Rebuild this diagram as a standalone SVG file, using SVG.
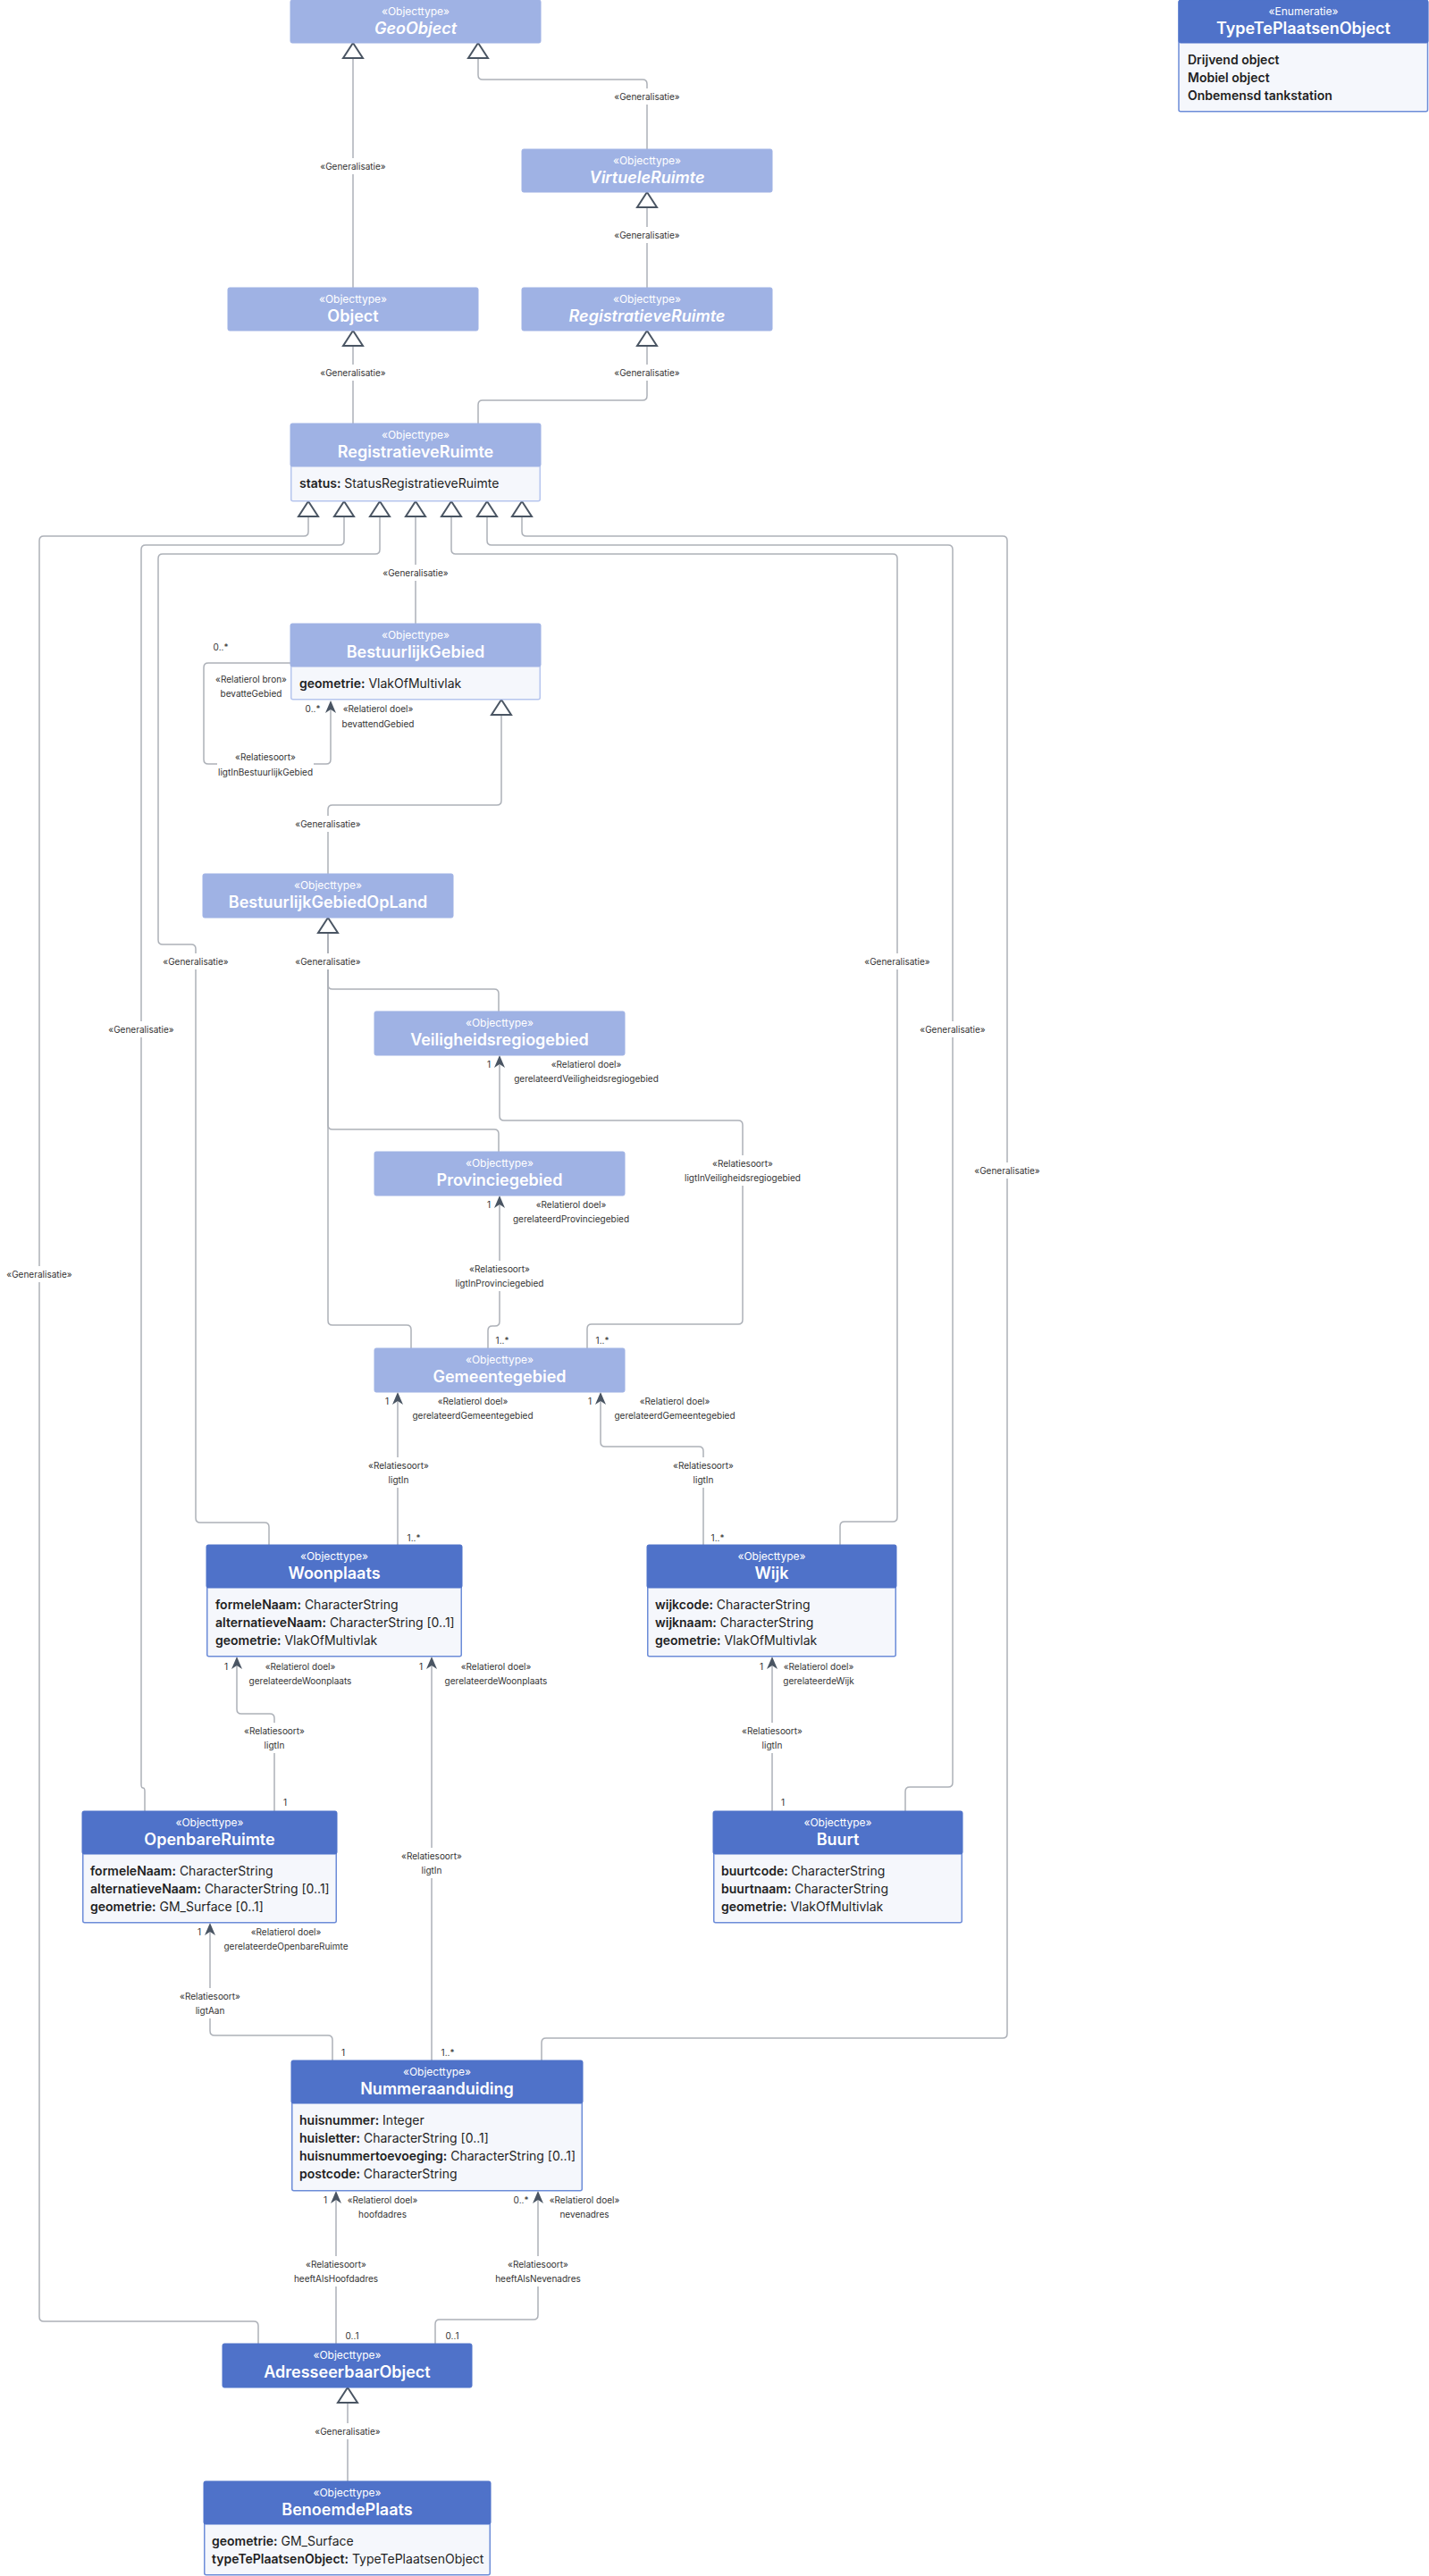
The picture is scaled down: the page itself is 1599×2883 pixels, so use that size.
<svg xmlns="http://www.w3.org/2000/svg" xmlns:xlink="http://www.w3.org/1999/xlink" width="1599" height="2883" viewBox="0 0 1599 2883">
<defs>
<style>
.ln{fill:none;stroke:#ADB1B8;stroke-width:1.5}
.tri{fill:#fff;stroke:#4A5563;stroke-width:2;stroke-linejoin:miter}
.arr{fill:#4A5563}
.bg{fill:#fff}
.lbl{font-family:Inter,'Liberation Sans',sans-serif;font-size:10px;fill:#333;text-anchor:middle}
.hl{fill:#9FB2E4;stroke:#9FB2E4;stroke-width:1}
.hd{fill:#4F72C9;stroke:#4F72C9;stroke-width:1}
.bl{fill:#F5F7FC;stroke:#B6C5EE;stroke-width:1.5}
.bd{fill:#F5F7FC;stroke:#6C8CD8;stroke-width:1.5}
.st{font-family:Inter,'Liberation Sans',sans-serif;font-size:12px;fill:#fff;text-anchor:middle}
.tt{font-family:Inter,'Liberation Sans',sans-serif;font-size:18px;font-weight:600;fill:#fff;text-anchor:middle}
.it{font-style:italic}
.at{font-family:Inter,'Liberation Sans',sans-serif;font-size:14px;fill:#1F1F1F}
.b{font-weight:600}
</style>
<path id="tri" d="M0,0 L-11,17 L11,17 Z"/>
<path id="arr" d="M0,0 L-6,14 L0,10 L6,14 Z"/>
</defs>
<rect width="1599" height="2883" fill="#fff"/>

<g id="connectors">
<path class="ln" d="M395,322 V65"/>
<path class="ln" d="M724,167 V94 Q724,89 719,89 H540 Q535,89 535,84 V65"/>
<path class="ln" d="M724,322 V232"/>
<path class="ln" d="M395,474 V387"/>
<path class="ln" d="M535,474 V453 Q535,448 540,448 H719 Q724,448 724,443 V387"/>
<path class="ln" d="M289,2623 V2603 Q289,2598 284,2598 H49 Q44,2598 44,2593 V605 Q44,600 49,600 H340 Q345,600 345,595 V578"/>
<path class="ln" d="M162,2027 V2005 Q162,2001 160,2001 Q158,2001 158,1997 V615 Q158,610 163,610 H380 Q385,610 385,605 V578"/>
<path class="ln" d="M301,1729 V1709 Q301,1704 296,1704 H224 Q219,1704 219,1699 V1062 Q219,1057 214,1057 H182 Q177,1057 177,1052 V625 Q177,620 182,620 H420 Q425,620 425,615 V578"/>
<path class="ln" d="M465,698 V578"/>
<path class="ln" d="M940,1729 V1708 Q940,1703 945,1703 H999 Q1004,1703 1004,1698 V625 Q1004,620 999,620 H510 Q505,620 505,615 V578"/>
<path class="ln" d="M1013,2027 V2005 Q1013,2000 1018,2000 H1061 Q1066,2000 1066,1995 V615 Q1066,610 1061,610 H550 Q545,610 545,605 V578"/>
<path class="ln" d="M606,2306 V2286 Q606,2281 611,2281 H1122 Q1127,2281 1127,2276 V605 Q1127,600 1122,600 H589 Q584,600 584,595 V578"/>
<path class="ln" d="M325,742 H233 Q228,742 228,747 V850 Q228,855 233,855 H365 Q370,855 370,850 V794"/>
<path class="ln" d="M367,978 V906 Q367,901 372,901 H556 Q561,901 561,896 V800"/>
<path class="ln" d="M558,1132 V1112 Q558,1107 553,1107 H372 Q367,1107 367,1102 V1044"/>
<path class="ln" d="M558,1289 V1269 Q558,1264 553,1264 H372 Q367,1264 367,1259 V1044"/>
<path class="ln" d="M460,1509 V1488 Q460,1483 455,1483 H372 Q367,1483 367,1478 V1044"/>
<path class="ln" d="M657,1509 V1487 Q657,1482 662,1482 H826 Q831,1482 831,1477 V1259 Q831,1254 826,1254 H564 Q559,1254 559,1249 V1190"/>
<path class="ln" d="M546,1509 V1489 Q546,1484 551,1484 H554 Q559,1484 559,1479 V1347"/>
<path class="ln" d="M445,1729 V1567"/>
<path class="ln" d="M787,1729 V1624 Q787,1619 782,1619 H677 Q672,1619 672,1614 V1567"/>
<path class="ln" d="M307,2027 V1923 Q307,1918 302,1918 H270 Q265,1918 265,1913 V1863"/>
<path class="ln" d="M483,2306 V1863"/>
<path class="ln" d="M864,2027 V1863"/>
<path class="ln" d="M372,2306 V2283 Q372,2278 367,2278 H240 Q235,2278 235,2273 V2161"/>
<path class="ln" d="M376,2623 V2461"/>
<path class="ln" d="M487,2623 V2601 Q487,2596 492,2596 H597 Q602,2596 602,2591 V2461"/>
<path class="ln" d="M389,2777 V2689"/>

<use xlink:href="#tri" class="tri" x="395" y="48"/>
<use xlink:href="#tri" class="tri" x="535" y="48"/>
<use xlink:href="#tri" class="tri" x="724" y="215"/>
<use xlink:href="#tri" class="tri" x="395" y="370"/>
<use xlink:href="#tri" class="tri" x="724" y="370"/>
<use xlink:href="#tri" class="tri" x="345" y="561"/>
<use xlink:href="#tri" class="tri" x="385" y="561"/>
<use xlink:href="#tri" class="tri" x="425" y="561"/>
<use xlink:href="#tri" class="tri" x="465" y="561"/>
<use xlink:href="#tri" class="tri" x="505" y="561"/>
<use xlink:href="#tri" class="tri" x="545" y="561"/>
<use xlink:href="#tri" class="tri" x="584" y="561"/>
<use xlink:href="#tri" class="tri" x="561" y="783"/>
<use xlink:href="#tri" class="tri" x="367" y="1027"/>
<use xlink:href="#tri" class="tri" x="389" y="2672"/>

<use xlink:href="#arr" class="arr" x="370" y="784"/>
<use xlink:href="#arr" class="arr" x="559" y="1181"/>
<use xlink:href="#arr" class="arr" x="559" y="1338"/>
<use xlink:href="#arr" class="arr" x="445" y="1558"/>
<use xlink:href="#arr" class="arr" x="672" y="1558"/>
<use xlink:href="#arr" class="arr" x="265" y="1854"/>
<use xlink:href="#arr" class="arr" x="483" y="1854"/>
<use xlink:href="#arr" class="arr" x="864" y="1854"/>
<use xlink:href="#arr" class="arr" x="235" y="2152"/>
<use xlink:href="#arr" class="arr" x="376" y="2452"/>
<use xlink:href="#arr" class="arr" x="602" y="2452"/>

<rect class="bg" x="355" y="177" width="80" height="18"/><text class="lbl" x="395" y="189.5">«Generalisatie»</text>
<rect class="bg" x="684" y="99" width="80" height="18"/><text class="lbl" x="724" y="111.5">«Generalisatie»</text>
<rect class="bg" x="684" y="254" width="80" height="18"/><text class="lbl" x="724" y="266.5">«Generalisatie»</text>
<rect class="bg" x="355" y="408" width="80" height="18"/><text class="lbl" x="395" y="420.5">«Generalisatie»</text>
<rect class="bg" x="684" y="408" width="80" height="18"/><text class="lbl" x="724" y="420.5">«Generalisatie»</text>
<rect class="bg" x="425" y="632" width="80" height="18"/><text class="lbl" x="465" y="644.5">«Generalisatie»</text>
<rect class="bg" x="4" y="1417" width="80" height="18"/><text class="lbl" x="44" y="1429.5">«Generalisatie»</text>
<rect class="bg" x="118" y="1143" width="80" height="18"/><text class="lbl" x="158" y="1155.5">«Generalisatie»</text>
<rect class="bg" x="179" y="1067" width="80" height="18"/><text class="lbl" x="219" y="1079.5">«Generalisatie»</text>
<rect class="bg" x="964" y="1067" width="80" height="18"/><text class="lbl" x="1004" y="1079.5">«Generalisatie»</text>
<rect class="bg" x="1026" y="1143" width="80" height="18"/><text class="lbl" x="1066" y="1155.5">«Generalisatie»</text>
<rect class="bg" x="1087" y="1301" width="80" height="18"/><text class="lbl" x="1127" y="1313.5">«Generalisatie»</text>
<rect class="bg" x="327" y="913" width="80" height="18"/><text class="lbl" x="367" y="925.5">«Generalisatie»</text>
<rect class="bg" x="327" y="1067" width="80" height="18"/><text class="lbl" x="367" y="1079.5">«Generalisatie»</text>
<rect class="bg" x="349" y="2712" width="80" height="18"/><text class="lbl" x="389" y="2724.5">«Generalisatie»</text>

<text class="lbl" x="247" y="727.5">0..*</text>
<text class="lbl" x="281" y="763.5">«Relatierol bron»</text>
<text class="lbl" x="281" y="779.5">bevatteGebied</text>
<text class="lbl" x="350" y="796.5">0..*</text>
<text class="lbl" x="423" y="796.5">«Relatierol doel»</text>
<text class="lbl" x="423" y="813.5">bevattendGebied</text>
<rect class="bg" x="243" y="838" width="108" height="35"/>
<text class="lbl" x="297" y="850.5">«Relatiesoort»</text>
<text class="lbl" x="297" y="867.5">ligtInBestuurlijkGebied</text>

<text class="lbl" x="547" y="1194.5">1</text>
<text class="lbl" x="656" y="1194.5">«Relatierol doel»</text>
<text class="lbl" x="656" y="1210.5">gerelateerdVeiligheidsregiogebied</text>
<rect class="bg" x="765" y="1293" width="132" height="34"/>
<text class="lbl" x="831" y="1305.5">«Relatiesoort»</text>
<text class="lbl" x="831" y="1321.5">ligtInVeiligheidsregiogebied</text>
<text class="lbl" x="674" y="1503.5">1..*</text>

<text class="lbl" x="547" y="1351.5">1</text>
<text class="lbl" x="639" y="1351.5">«Relatierol doel»</text>
<text class="lbl" x="639" y="1367.5">gerelateerdProvinciegebied</text>
<rect class="bg" x="507" y="1411" width="104" height="34"/>
<text class="lbl" x="559" y="1423.5">«Relatiesoort»</text>
<text class="lbl" x="559" y="1439.5">ligtInProvinciegebied</text>
<text class="lbl" x="562" y="1503.5">1..*</text>

<text class="lbl" x="433" y="1571.5">1</text>
<text class="lbl" x="529" y="1571.5">«Relatierol doel»</text>
<text class="lbl" x="529" y="1587.5">gerelateerdGemeentegebied</text>
<rect class="bg" x="410" y="1631" width="72" height="34"/>
<text class="lbl" x="446" y="1643.5">«Relatiesoort»</text>
<text class="lbl" x="446" y="1659.5">ligtIn</text>
<text class="lbl" x="463" y="1724.5">1..*</text>

<text class="lbl" x="660" y="1571.5">1</text>
<text class="lbl" x="755" y="1571.5">«Relatierol doel»</text>
<text class="lbl" x="755" y="1587.5">gerelateerdGemeentegebied</text>
<rect class="bg" x="751" y="1631" width="72" height="34"/>
<text class="lbl" x="787" y="1643.5">«Relatiesoort»</text>
<text class="lbl" x="787" y="1659.5">ligtIn</text>
<text class="lbl" x="803" y="1724.5">1..*</text>

<text class="lbl" x="253" y="1868.5">1</text>
<text class="lbl" x="336" y="1868.5">«Relatierol doel»</text>
<text class="lbl" x="336" y="1884.5">gerelateerdeWoonplaats</text>
<rect class="bg" x="271" y="1928" width="72" height="34"/>
<text class="lbl" x="307" y="1940.5">«Relatiesoort»</text>
<text class="lbl" x="307" y="1956.5">ligtIn</text>
<text class="lbl" x="319" y="2020.5">1</text>

<text class="lbl" x="471" y="1868.5">1</text>
<text class="lbl" x="555" y="1868.5">«Relatierol doel»</text>
<text class="lbl" x="555" y="1884.5">gerelateerdeWoonplaats</text>
<rect class="bg" x="447" y="2068" width="72" height="34"/>
<text class="lbl" x="483" y="2080.5">«Relatiesoort»</text>
<text class="lbl" x="483" y="2096.5">ligtIn</text>
<text class="lbl" x="501" y="2300.5">1..*</text>

<text class="lbl" x="852" y="1868.5">1</text>
<text class="lbl" x="916" y="1868.5">«Relatierol doel»</text>
<text class="lbl" x="916" y="1884.5">gerelateerdeWijk</text>
<rect class="bg" x="828" y="1928" width="72" height="34"/>
<text class="lbl" x="864" y="1940.5">«Relatiesoort»</text>
<text class="lbl" x="864" y="1956.5">ligtIn</text>
<text class="lbl" x="876" y="2020.5">1</text>

<text class="lbl" x="223" y="2165.5">1</text>
<text class="lbl" x="320" y="2165.5">«Relatierol doel»</text>
<text class="lbl" x="320" y="2181.5">gerelateerdeOpenbareRuimte</text>
<rect class="bg" x="199" y="2225" width="72" height="34"/>
<text class="lbl" x="235" y="2237.5">«Relatiesoort»</text>
<text class="lbl" x="235" y="2253.5">ligtAan</text>
<text class="lbl" x="384" y="2300.5">1</text>

<text class="lbl" x="364" y="2465.5">1</text>
<text class="lbl" x="428" y="2465.5">«Relatierol doel»</text>
<text class="lbl" x="428" y="2481.5">hoofdadres</text>
<rect class="bg" x="326" y="2525" width="100" height="34"/>
<text class="lbl" x="376" y="2537.5">«Relatiesoort»</text>
<text class="lbl" x="376" y="2553.5">heeftAlsHoofdadres</text>
<text class="lbl" x="394" y="2617.5">0..1</text>

<text class="lbl" x="583" y="2465.5">0..*</text>
<text class="lbl" x="654" y="2465.5">«Relatierol doel»</text>
<text class="lbl" x="654" y="2481.5">nevenadres</text>
<rect class="bg" x="552" y="2525" width="100" height="34"/>
<text class="lbl" x="602" y="2537.5">«Relatiesoort»</text>
<text class="lbl" x="602" y="2553.5">heeftAlsNevenadres</text>
<text class="lbl" x="506" y="2617.5">0..1</text>
</g>

<g id="GeoObject">
<rect class="hl" x="325" y="0" width="280" height="48" rx="2"/>
<text class="st" x="465" y="17">«Objecttype»</text>
<text class="tt it" x="465" y="38">GeoObject</text>
</g>

<g id="TypeTePlaatsenObject">
<rect class="bd" x="1319" y="0.75" width="278.5" height="124" rx="2"/>
<rect class="hd" x="1319" y="0" width="279" height="48" rx="2"/>
<text class="st" x="1458.5" y="17">«Enumeratie»</text>
<text class="tt" x="1458.5" y="38">TypeTePlaatsenObject</text>
<text class="at b" x="1329" y="72">Drijvend object</text>
<text class="at b" x="1329" y="92">Mobiel object</text>
<text class="at b" x="1329" y="112">Onbemensd tankstation</text>
</g>

<g id="VirtueleRuimte">
<rect class="hl" x="584" y="167" width="280" height="48" rx="2"/>
<text class="st" x="724" y="184">«Objecttype»</text>
<text class="tt it" x="724" y="205">VirtueleRuimte</text>
</g>

<g id="Object">
<rect class="hl" x="255" y="322" width="280" height="48" rx="2"/>
<text class="st" x="395" y="339">«Objecttype»</text>
<text class="tt" x="395" y="360">Object</text>
</g>

<g id="RegistratieveRuimteAbstract">
<rect class="hl" x="584" y="322" width="280" height="48" rx="2"/>
<text class="st" x="724" y="339">«Objecttype»</text>
<text class="tt it" x="724" y="360">RegistratieveRuimte</text>
</g>

<g id="RegistratieveRuimte">
<rect class="bl" x="325.75" y="474.75" width="278.5" height="86" rx="2"/>
<rect class="hl" x="325" y="474" width="280" height="48" rx="2"/>
<text class="st" x="465" y="491">«Objecttype»</text>
<text class="tt" x="465" y="512">RegistratieveRuimte</text>
<text class="at" x="335" y="546"><tspan class="b">status:</tspan> StatusRegistratieveRuimte</text>
</g>

<g id="BestuurlijkGebied">
<rect class="bl" x="325.75" y="698.75" width="278.5" height="84" rx="2"/>
<rect class="hl" x="325" y="698" width="280" height="48" rx="2"/>
<text class="st" x="465" y="715">«Objecttype»</text>
<text class="tt" x="465" y="736">BestuurlijkGebied</text>
<text class="at" x="335" y="770"><tspan class="b">geometrie:</tspan> VlakOfMultivlak</text>
</g>

<g id="BestuurlijkGebiedOpLand">
<rect class="hl" x="227" y="978" width="280" height="49" rx="2"/>
<text class="st" x="367" y="995">«Objecttype»</text>
<text class="tt" x="367" y="1016">BestuurlijkGebiedOpLand</text>
</g>

<g id="Veiligheidsregiogebied">
<rect class="hl" x="419" y="1132" width="280" height="49" rx="2"/>
<text class="st" x="559" y="1149">«Objecttype»</text>
<text class="tt" x="559" y="1170">Veiligheidsregiogebied</text>
</g>

<g id="Provinciegebied">
<rect class="hl" x="419" y="1289" width="280" height="49" rx="2"/>
<text class="st" x="559" y="1306">«Objecttype»</text>
<text class="tt" x="559" y="1327">Provinciegebied</text>
</g>

<g id="Gemeentegebied">
<rect class="hl" x="419" y="1509" width="280" height="49" rx="2"/>
<text class="st" x="559" y="1526">«Objecttype»</text>
<text class="tt" x="559" y="1547">Gemeentegebied</text>
</g>

<g id="Woonplaats">
<rect class="bd" x="231.75" y="1729.75" width="284.5" height="124" rx="2"/>
<rect class="hd" x="231" y="1729" width="286" height="48" rx="2"/>
<text class="st" x="374" y="1746">«Objecttype»</text>
<text class="tt" x="374" y="1767">Woonplaats</text>
<text class="at" x="241" y="1801"><tspan class="b">formeleNaam:</tspan> CharacterString</text>
<text class="at" x="241" y="1821"><tspan class="b">alternatieveNaam:</tspan> CharacterString [0..1]</text>
<text class="at" x="241" y="1841"><tspan class="b">geometrie:</tspan> VlakOfMultivlak</text>
</g>

<g id="Wijk">
<rect class="bd" x="724.75" y="1729.75" width="277.5" height="124" rx="2"/>
<rect class="hd" x="724" y="1729" width="279" height="48" rx="2"/>
<text class="st" x="863.5" y="1746">«Objecttype»</text>
<text class="tt" x="863.5" y="1767">Wijk</text>
<text class="at" x="733" y="1801"><tspan class="b">wijkcode:</tspan> CharacterString</text>
<text class="at" x="733" y="1821"><tspan class="b">wijknaam:</tspan> CharacterString</text>
<text class="at" x="733" y="1841"><tspan class="b">geometrie:</tspan> VlakOfMultivlak</text>
</g>

<g id="OpenbareRuimte">
<rect class="bd" x="92.75" y="2027.75" width="283.5" height="124" rx="2"/>
<rect class="hd" x="92" y="2027" width="285" height="48" rx="2"/>
<text class="st" x="234.5" y="2044">«Objecttype»</text>
<text class="tt" x="234.5" y="2065">OpenbareRuimte</text>
<text class="at" x="101" y="2099"><tspan class="b">formeleNaam:</tspan> CharacterString</text>
<text class="at" x="101" y="2119"><tspan class="b">alternatieveNaam:</tspan> CharacterString [0..1]</text>
<text class="at" x="101" y="2139"><tspan class="b">geometrie:</tspan> GM_Surface [0..1]</text>
</g>

<g id="Buurt">
<rect class="bd" x="798.75" y="2027.75" width="277.5" height="124" rx="2"/>
<rect class="hd" x="798" y="2027" width="279" height="48" rx="2"/>
<text class="st" x="937.5" y="2044">«Objecttype»</text>
<text class="tt" x="937.5" y="2065">Buurt</text>
<text class="at" x="807" y="2099"><tspan class="b">buurtcode:</tspan> CharacterString</text>
<text class="at" x="807" y="2119"><tspan class="b">buurtnaam:</tspan> CharacterString</text>
<text class="at" x="807" y="2139"><tspan class="b">geometrie:</tspan> VlakOfMultivlak</text>
</g>

<g id="Nummeraanduiding">
<rect class="bd" x="326.75" y="2306.75" width="324.5" height="145" rx="2"/>
<rect class="hd" x="326" y="2306" width="326" height="48" rx="2"/>
<text class="st" x="489" y="2323">«Objecttype»</text>
<text class="tt" x="489" y="2344">Nummeraanduiding</text>
<text class="at" x="335" y="2378"><tspan class="b">huisnummer:</tspan> Integer</text>
<text class="at" x="335" y="2398"><tspan class="b">huisletter:</tspan> CharacterString [0..1]</text>
<text class="at" x="335" y="2418"><tspan class="b">huisnummertoevoeging:</tspan> CharacterString [0..1]</text>
<text class="at" x="335" y="2438"><tspan class="b">postcode:</tspan> CharacterString</text>
</g>

<g id="AdresseerbaarObject">
<rect class="hd" x="249" y="2623" width="279" height="49" rx="2"/>
<text class="st" x="388.5" y="2640">«Objecttype»</text>
<text class="tt" x="388.5" y="2661">AdresseerbaarObject</text>
</g>

<g id="BenoemdePlaats">
<rect class="bd" x="228.75" y="2777.75" width="319.5" height="104" rx="2"/>
<rect class="hd" x="228" y="2777" width="321" height="48" rx="2"/>
<text class="st" x="388.5" y="2794">«Objecttype»</text>
<text class="tt" x="388.5" y="2815">BenoemdePlaats</text>
<text class="at" x="237" y="2849"><tspan class="b">geometrie:</tspan> GM_Surface</text>
<text class="at" x="237" y="2869"><tspan class="b">typeTePlaatsenObject:</tspan> TypeTePlaatsenObject</text>
</g>
</svg>
